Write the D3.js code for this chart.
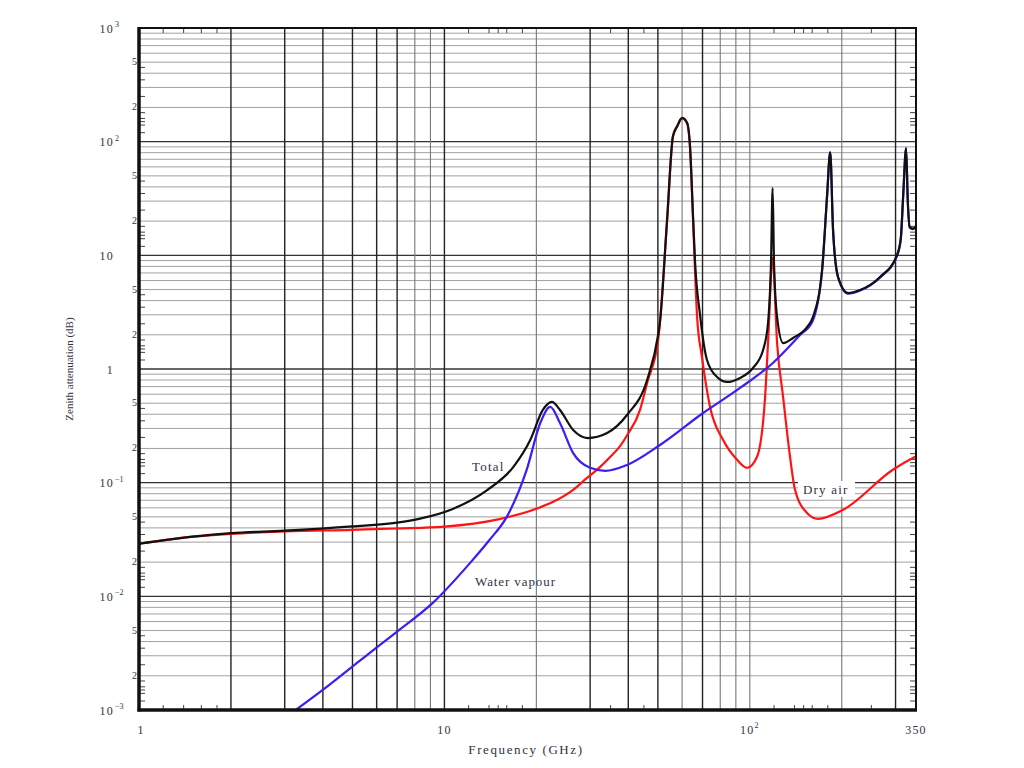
<!DOCTYPE html>
<html>
<head>
<meta charset="utf-8">
<script src="https://cdn.jsdelivr.net/npm/d3@7"></script>
<style>
body { margin: 0; background: #fff; }
text { font-family: "Liberation Serif", "DejaVu Serif", serif; fill: #33323f; }
</style>
</head>
<body>
<svg id="chart" width="1024" height="768"></svg>
<script>
// Zenith attenuation (dB) against frequency (GHz)

var dryFreq = [1, 1.5, 2, 3, 5, 7, 10, 15, 20, 22.7, 26.4, 29.3, 32.3, 35, 37.6, 39.6, 43.7, 46.1, 50.1,
    53.6, 56, 57.8, 60, 62.3, 63.7, 65.2, 67.2, 69.7, 74.1, 81.7, 90.8, 97.9, 105.6, 112.2, 114.7,
    118.75, 122.8, 128.5, 135.4, 140.6, 153.9, 167.2, 202, 294, 342, 350];
var dryVal = [0.029, 0.0335, 0.0355, 0.0372, 0.0385, 0.0395, 0.041, 0.0475, 0.0589, 0.0678, 0.0865, 0.110, 0.137, 0.17, 0.21, 0.26, 0.437, 0.755, 1.80,
    20, 110, 135, 160, 145, 89, 20, 2.87, 1.28, 0.464, 0.238, 0.159, 0.135, 0.169, 0.569, 1.70,
    9.5, 1.70, 0.569, 0.169, 0.0865, 0.0542, 0.0481, 0.0577, 0.130, 0.165, 0.17];

var waterFreq = [3, 4.22, 5.29, 6.02, 7, 9.18, 12.1, 14, 16, 18.6, 20.6, 22.2, 23.9, 26.4, 30, 33.6, 39.6,
    50.8, 70.3, 92.9, 119, 146, 160, 172.4, 178.9, 183.3, 187.3, 194.5, 209.7, 229.6, 267, 303,
    312, 318, 324.8, 329, 334, 342, 350];
var waterVal = [0.00085, 0.00168, 0.00272, 0.00358, 0.0049, 0.0088, 0.0195, 0.031, 0.050, 0.13, 0.335, 0.464, 0.335, 0.182, 0.135, 0.127, 0.143,
    0.2145, 0.410, 0.681, 1.13, 1.99, 2.59, 7.3, 32, 80, 16.5, 6.4, 4.6, 4.9, 6.4, 9.8,
    13.8, 34.5, 87, 29.5, 17.5, 17.0, 17.8];

var totalFreq = [1, 1.5, 2, 3, 5, 7, 8.32, 10.7, 13.8, 16.8, 19.1, 21, 22.5, 23.9, 26.4, 29.5, 34.1, 39.6,
    46.1, 50.1, 50.8, 53.6, 56, 57.8, 60, 62.3, 63.7, 65.2, 66.2, 68.7, 72.4, 78.1, 84.2, 92.9, 102.4, 110.5,
    114.7, 117.3, 118.75, 120, 122.8, 128.5, 138.5, 153.9, 161, 172.4, 178.9, 183.3, 187.3, 194.5,
    209.7, 229.6, 267, 303, 312, 318, 324.8, 329, 334, 342, 350];
var totalVal = [0.029, 0.0335, 0.036, 0.0378, 0.0412, 0.0445, 0.0482, 0.059, 0.086, 0.137, 0.237, 0.436, 0.513, 0.436, 0.2905, 0.247, 0.2735, 0.394,
    0.80, 2.0, 2.6, 21, 112, 137, 162, 147, 91, 21.5, 8.56, 3.0, 1.20, 0.85, 0.769, 0.834, 1.02, 1.47,
    2.54, 8.56, 39.1, 8.56, 2.87, 1.69, 1.875, 2.34, 2.87, 7.43, 32.6, 81, 16.7, 6.45,
    4.66, 4.95, 6.45, 10, 14, 35, 88, 30, 17.7, 17.2, 18];

// ticks and grid
var xGridDark = [2, 3, 4, 5, 6, 7, 10, 30, 40, 50, 70, 300];
var xGridLight = [8, 9, 20, 60, 80, 90, 100, 200];
var xMinor = [1.2, 1.4, 1.6, 1.8, 12, 14, 15, 16, 18, 35, 45, 120, 140, 150, 160, 180, 250];
var yMinorMult = [1.2, 1.4, 1.5, 1.6, 1.8, 2.5, 3.5, 4.5];
var yDecades = [1000, 100, 10, 1, 0.1, 0.01, 0.001];
var yDecadeBase = ["10", "10", "10", "1", "10", "10", "10"];
var yDecadeSup = ["3", "2", "", "", "\u22121", "\u22122", "\u22123"];
var yMidLabels = [500, 200, 50, 20, 5, 2, 0.5, 0.2, 0.05, 0.02, 0.005, 0.002];
var yMidText = ["5", "2", "5", "2", "5", "2", "5", "2", "5", "2", "5", "2"];
var xTickVals = [1, 10, 100, 350];
var xTickBase = ["1", "10", "10", "350"];
var xTickSup = ["", "", "2", ""];

var L = 139, R = 916, T = 28, B = 710;
var x = d3.scaleLog().domain([1, 350]).range([L, R]);
var y = d3.scaleLog().domain([0.001, 1000]).range([B, T]);

var svg = d3.select("#chart");

function isDecade(d) {
    var l = Math.log10(d);
    return Math.abs(l - Math.round(l)) < 1e-6;
}

// horizontal grid: every 1..9 multiple per decade
svg.append("g").selectAll("line").data(y.ticks()).join("line")
    .attr("x1", L).attr("x2", R)
    .attr("y1", d => y(d)).attr("y2", d => y(d))
    .attr("stroke", d => isDecade(d) ? "#333" : "#a0a0a0")
    .attr("stroke-width", d => isDecade(d) ? 1.4 : 1);

// vertical grid
svg.append("g").selectAll("line").data(xGridLight).join("line")
    .attr("x1", d => x(d)).attr("x2", d => x(d))
    .attr("y1", T).attr("y2", B)
    .attr("stroke", "#777").attr("stroke-width", 1.1);
svg.append("g").selectAll("line").data(xGridDark).join("line")
    .attr("x1", d => x(d)).attr("x2", d => x(d))
    .attr("y1", T).attr("y2", B)
    .attr("stroke", "#222").attr("stroke-width", 1.4);

// small inward ticks on all four sides
var yMinor = yDecades.slice(1).flatMap(dec => yMinorMult.map(m => dec * m));
var tk = svg.append("g").attr("stroke", "#444").attr("stroke-width", 1);
tk.selectAll(".xb").data(xMinor).join("line").attr("class", "xb")
    .attr("x1", d => x(d)).attr("x2", d => x(d)).attr("y1", B).attr("y2", B - 5);
tk.selectAll(".xt").data(xMinor).join("line").attr("class", "xt")
    .attr("x1", d => x(d)).attr("x2", d => x(d)).attr("y1", T).attr("y2", T + 5);
tk.selectAll(".yl").data(yMinor).join("line").attr("class", "yl")
    .attr("x1", L).attr("x2", L + 6).attr("y1", d => y(d)).attr("y2", d => y(d));
tk.selectAll(".yr").data(yMinor).join("line").attr("class", "yr")
    .attr("x1", R).attr("x2", R - 6).attr("y1", d => y(d)).attr("y2", d => y(d));

// curves
svg.append("clipPath").attr("id", "plotclip")
    .append("rect").attr("x", L).attr("y", T).attr("width", R - L).attr("height", B - T);

var line = d3.line()
    .x(d => x(d[0]))
    .y(d => y(d[1]))
    .curve(d3.curveMonotoneX);

var curves = svg.append("g").attr("clip-path", "url(#plotclip)").attr("fill", "none")
    .attr("stroke-linejoin", "round");
curves.append("path").datum(d3.zip(dryFreq, dryVal))
    .attr("d", line).attr("stroke", "#ff1414").attr("stroke-width", 2.2);
curves.append("path").datum(d3.zip(waterFreq, waterVal))
    .attr("d", line).attr("stroke", "#3c1ef2").attr("stroke-width", 2.2);
curves.append("path").datum(d3.zip(totalFreq, totalVal))
    .attr("d", line).attr("stroke", "#111").attr("stroke-width", 2.2);

// frame, heavier on left and bottom
svg.append("rect").attr("x", L).attr("y", T).attr("width", R - L).attr("height", B - T)
    .attr("fill", "none").attr("stroke", "#111").attr("stroke-width", 2);
svg.append("line").attr("x1", L).attr("x2", L).attr("y1", T - 1).attr("y2", B + 1.5)
    .attr("stroke", "#111").attr("stroke-width", 3.5);
svg.append("line").attr("x1", L - 1.5).attr("x2", R + 1).attr("y1", B).attr("y2", B)
    .attr("stroke", "#111").attr("stroke-width", 3.5);

// y labels
var yl = svg.append("g");
yDecades.forEach(function (d, i) {
    yl.append("text").attr("x", 114).attr("y", y(d) + 4.5)
        .attr("text-anchor", "end").attr("font-size", 12).attr("letter-spacing", 1.2)
        .text(yDecadeBase[i]);
    if (yDecadeSup[i]) {
        yl.append("text").attr("x", 115).attr("y", y(d) - 1)
            .attr("font-size", 8).text(yDecadeSup[i]);
    }
});
yMidLabels.forEach(function (d, i) {
    yl.append("text").attr("x", 137).attr("y", y(d) + 3)
        .attr("text-anchor", "end").attr("font-size", 10)
        .text(yMidText[i]);
});

// x labels
xTickVals.forEach(function (d, i) {
    var t = svg.append("text").attr("x", x(d) + (i == 0 ? 2 : 0)).attr("y", 734)
        .attr("text-anchor", "middle").attr("font-size", 12).attr("letter-spacing", 1.2)
        .text(xTickBase[i]);
    if (xTickSup[i]) {
        t.append("tspan").attr("dy", -6).attr("font-size", 8).text(xTickSup[i]);
    }
});

// axis titles
svg.append("text").attr("x", 526).attr("y", 754).attr("text-anchor", "middle")
    .attr("font-size", 13).attr("letter-spacing", 1.6).text("Frequency (GHz)");
svg.append("text").attr("transform", "translate(73,369) rotate(-90)")
    .attr("text-anchor", "middle").attr("font-size", 11).attr("fill", "#55546a")
    .text("Zenith attenuation (dB)");

// curve labels
svg.append("text").attr("x", 472).attr("y", 471).attr("font-size", 13)
    .attr("letter-spacing", 1.2).text("Total");
svg.append("text").attr("x", 475).attr("y", 586).attr("font-size", 13)
    .attr("letter-spacing", 0.9).text("Water vapour");
svg.append("rect").attr("x", 798).attr("y", 481).attr("width", 57).attr("height", 16)
    .attr("fill", "#fff");
svg.append("text").attr("x", 803).attr("y", 494).attr("font-size", 13)
    .attr("letter-spacing", 1.2).text("Dry air");
</script>
</body>
</html>
